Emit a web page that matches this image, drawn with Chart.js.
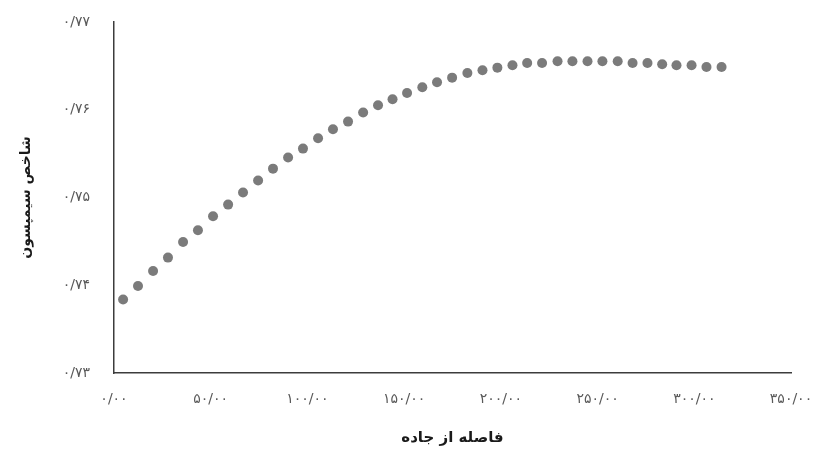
<!DOCTYPE html>
<html>
<head>
<meta charset="utf-8">
<script src="https://cdn.jsdelivr.net/npm/chart.js@4/dist/chart.umd.min.js"></script>
<style>
  html, body { margin: 0; padding: 0; background: #ffffff; }
  #wrap { width: 821px; height: 450px; position: relative; }
</style>
</head>
<body>
<div id="wrap"><canvas id="c"></canvas></div>
<script>
// Distance from road (x) and Simpson index (y)
const distances = [4.7, 12.4, 20.2, 27.9, 35.7, 43.4, 51.2, 59.0, 66.7, 74.5,
  82.2, 90.0, 97.7, 105.5, 113.2, 121.0, 128.8, 136.5, 144.0, 151.5,
  159.4, 167.0, 174.8, 182.7, 190.5, 198.2, 206.0, 213.6, 221.3, 229.3,
  237.0, 244.8, 252.5, 260.4, 268.1, 275.8, 283.4, 290.8, 298.6, 306.3, 314.1];
const simpsonIndex = [0.73837, 0.73991, 0.74162, 0.74315, 0.74493, 0.74626, 0.74786, 0.74919, 0.75056, 0.75193,
  0.75329, 0.75455, 0.75557, 0.75675, 0.75777, 0.75865, 0.75968, 0.76051, 0.76119, 0.76191,
  0.76256, 0.76313, 0.76366, 0.76419, 0.76450, 0.76480, 0.76507, 0.76533, 0.76533, 0.76552,
  0.76552, 0.76552, 0.76552, 0.76552, 0.76533, 0.76533, 0.76518, 0.76507, 0.76507, 0.76487, 0.76487];
const xTickValues = [0, 50, 100, 150, 200, 250, 300, 350];
const yTickValues = [0.73, 0.74, 0.75, 0.76, 0.77];
const xTitle = 'فاصله از جاده';
const yTitle = 'شاخص سیمپسون';

const persianDigits = ['۰','۱','۲','۳','۴','۵','۶','۷','۸','۹'];
function toPersian(str) {
  return str.replace(/[0-9]/g, d => persianDigits[+d]).replace('.', '/');
}

const points = distances.map((x, i) => ({ x: x, y: simpsonIndex[i] }));

// Widen tick label letter spacing (labels only, not the Arabic titles)
const spacedLabels = {
  id: 'spacedLabels',
  afterLayout(chart) {
    ['x', 'y'].forEach(id => {
      const sc = chart.scales[id];
      if (sc._spacedPatched) return;
      const orig = sc.drawLabels;
      sc.drawLabels = function (area) {
        const ctx = this.ctx;
        ctx.save();
        ctx.letterSpacing = '3.5px';
        orig.call(this, area);
        ctx.restore();
      };
      sc._spacedPatched = true;
    });
  }
};

new Chart(document.getElementById('c'), {
  type: 'scatter',
  data: {
    datasets: [{
      data: points,
      pointRadius: 5,
      pointHoverRadius: 5,
      pointBackgroundColor: '#7b7b7b',
      pointBorderWidth: 0,
      showLine: false
    }]
  },
  plugins: [spacedLabels],
  options: {
    responsive: true,
    maintainAspectRatio: false,
    animation: false,
    layout: { padding: { top: 22, right: 30, left: 0, bottom: 0 } },
    plugins: { legend: { display: false }, tooltip: { enabled: false } },
    scales: {
      x: {
        type: 'linear',
        min: 0, max: 350,
        afterBuildTicks: s => { s.ticks = xTickValues.map(v => ({ value: v })); },
        afterFit: s => { s.height = 77; s.paddingLeft = 0; s.paddingRight = 0; },
        grid: { display: false, drawTicks: false, tickLength: 0 },
        border: { display: true, color: '#3c3c3c', width: 1.5 },
        ticks: {
          padding: 18,
          color: '#595959',
          font: { family: 'DejaVu Sans', size: 14 },
          maxRotation: 0,
          callback: v => toPersian(Number(v).toFixed(2))
        },
        title: {
          display: true,
          text: xTitle,
          color: '#1a1a1a',
          font: { family: 'DejaVu Sans', size: 15, weight: 'bold' },
          padding: { top: 0, bottom: 3 }
        }
      },
      y: {
        type: 'linear',
        min: 0.73, max: 0.77,
        afterBuildTicks: s => { s.ticks = yTickValues.map(v => ({ value: v })); },
        afterFit: s => { s.width = 114; s.paddingTop = 0; s.paddingBottom = 0; },
        grid: { display: false, drawTicks: false, tickLength: 0 },
        border: { display: true, color: '#3c3c3c', width: 1.5 },
        ticks: {
          padding: 24,
          color: '#595959',
          font: { family: 'DejaVu Sans', size: 14 },
          callback: v => toPersian(Number(v).toFixed(2))
        },
        title: {
          display: true,
          text: yTitle,
          color: '#1a1a1a',
          font: { family: 'DejaVu Sans', size: 14, weight: 'bold' },
          padding: { top: 18, bottom: 0 }
        }
      }
    }
  }
});
</script>
</body>
</html>
